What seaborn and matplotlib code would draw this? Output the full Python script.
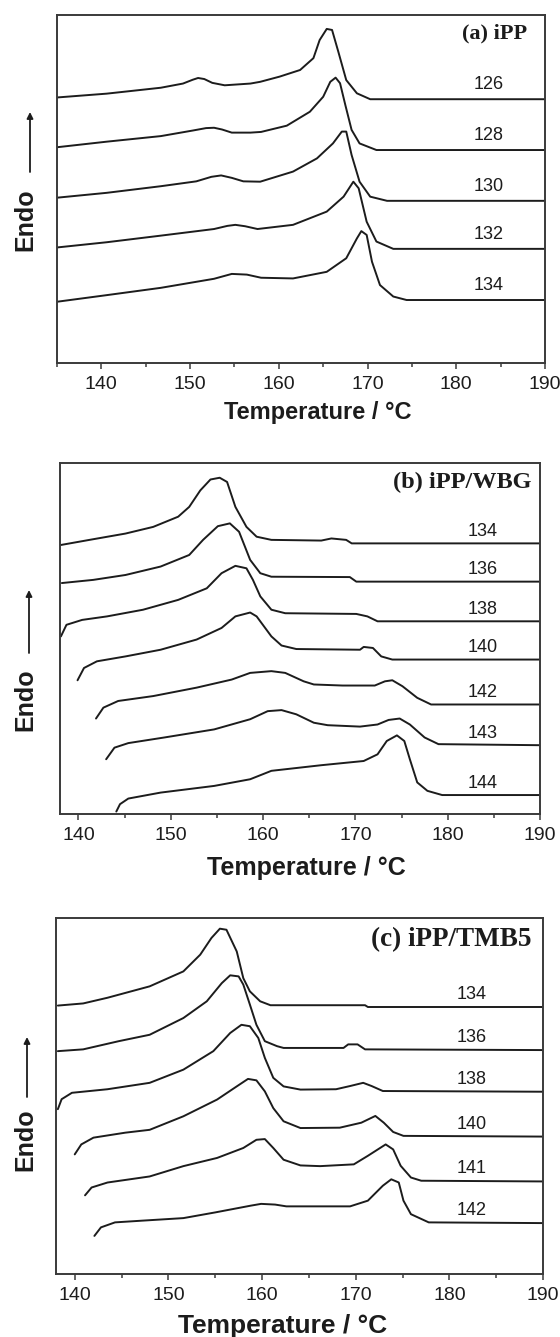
import matplotlib
matplotlib.use("Agg")
import matplotlib.pyplot as plt
from matplotlib.ticker import MultipleLocator
import seaborn as sns

# ---------------- data: DSC melting curves (temperature in degC, heat flow in arbitrary units) ----------------
# (a) iPP, isothermal crystallization temperatures
ipp_tc = ["126", "128", "130", "132", "134"]
ipp_126_t = [135.0, 140.6, 146.7, 149.2, 150.3, 150.9, 151.6, 152.5, 153.9, 156.8, 157.9, 160.1, 162.4, 163.9, 164.6, 165.4, 166.0, 166.7, 167.6, 168.8, 170.3, 190.0]
ipp_126_y = [76.3, 77.4, 79.1, 80.3, 81.4, 81.9, 81.6, 80.5, 79.8, 80.3, 80.8, 82.3, 84.2, 87.6, 92.8, 96.0, 95.7, 89.5, 81.3, 77.5, 75.8, 75.8]
ipp_128_t = [135.0, 140.6, 146.7, 150.3, 151.8, 152.7, 153.6, 154.7, 156.8, 158.0, 160.9, 163.5, 165.0, 165.8, 166.4, 166.9, 167.5, 168.2, 169.1, 171.0, 190.0]
ipp_128_y = [62.0, 63.6, 65.2, 66.8, 67.5, 67.6, 67.1, 66.2, 66.2, 66.4, 68.2, 72.2, 76.5, 80.8, 82.0, 80.4, 74.1, 67.0, 63.1, 61.2, 61.2]
ipp_130_t = [135.0, 140.6, 146.7, 150.7, 152.4, 153.5, 154.7, 156.0, 157.9, 161.6, 164.3, 166.1, 167.1, 167.6, 168.2, 169.1, 170.3, 172.2, 190.0]
ipp_130_y = [47.5, 48.9, 50.8, 52.2, 53.5, 53.9, 53.2, 52.2, 52.1, 55.0, 58.8, 63.1, 66.5, 66.5, 59.8, 52.1, 47.8, 46.6, 46.6]
ipp_132_t = [135.0, 140.6, 146.7, 152.7, 154.2, 155.1, 156.2, 157.6, 161.6, 165.4, 167.3, 168.4, 169.0, 169.9, 171.0, 172.9, 190.0]
ipp_132_y = [33.2, 34.7, 36.6, 38.5, 39.4, 39.7, 39.3, 38.5, 39.7, 43.5, 47.8, 52.1, 50.2, 40.6, 34.9, 32.8, 32.8]
ipp_134_t = [135.0, 140.6, 146.7, 152.7, 154.7, 156.4, 158.0, 161.6, 165.4, 167.6, 168.8, 169.3, 169.9, 170.5, 171.4, 172.9, 174.4, 190.0]
ipp_134_y = [17.6, 19.5, 21.6, 24.2, 25.6, 25.4, 24.5, 24.3, 26.2, 30.1, 35.8, 37.9, 36.8, 29.1, 22.4, 19.1, 18.1, 18.1]

# (b) iPP/WBG
wbg_tc = ["134", "136", "138", "140", "142", "143", "144"]
wbg_134_t = [138.0, 141.2, 145.1, 148.1, 150.8, 152.0, 153.2, 154.3, 155.3, 156.1, 157.0, 158.2, 159.3, 160.9, 166.3, 167.4, 169.0, 169.6, 190.0]
wbg_134_y = [76.6, 78.1, 79.9, 81.8, 84.7, 87.5, 92.2, 95.3, 95.8, 94.6, 87.5, 81.8, 79.0, 78.1, 77.9, 78.5, 78.1, 77.1, 77.1]
wbg_136_t = [138.2, 141.6, 145.1, 148.9, 152.0, 153.5, 155.1, 156.4, 157.4, 158.6, 159.7, 160.9, 169.4, 170.1, 190.0]
wbg_136_y = [65.8, 66.7, 68.1, 70.5, 73.8, 78.1, 82.0, 82.8, 80.4, 72.4, 68.6, 67.6, 67.5, 66.2, 66.2]
wbg_138_t = [138.1, 138.7, 140.4, 143.1, 147.0, 150.8, 153.9, 155.5, 157.0, 158.2, 158.9, 159.7, 160.9, 162.4, 170.1, 171.3, 172.4, 190.0]
wbg_138_y = [50.6, 53.9, 55.3, 56.3, 58.2, 61.0, 64.3, 68.6, 70.7, 70.0, 66.7, 62.0, 58.2, 57.2, 57.0, 56.3, 54.9, 54.9]
wbg_140_t = [139.9, 140.6, 142.0, 145.1, 148.9, 152.8, 155.5, 157.0, 158.6, 159.3, 160.9, 162.0, 163.6, 170.5, 170.9, 171.9, 172.8, 174.0, 190.0]
wbg_140_y = [38.1, 41.6, 43.5, 44.9, 46.8, 49.7, 53.0, 56.3, 57.4, 56.3, 50.6, 48.0, 47.0, 46.8, 47.6, 47.3, 44.9, 44.0, 44.0]
wbg_142_t = [141.9, 142.7, 144.3, 148.1, 152.8, 156.6, 158.6, 160.9, 162.4, 164.4, 165.5, 168.6, 172.1, 173.2, 174.0, 175.1, 176.7, 178.2, 190.0]
wbg_142_y = [27.2, 30.3, 32.2, 33.6, 36.0, 38.3, 40.2, 40.7, 40.2, 37.8, 36.9, 36.6, 36.6, 37.8, 38.1, 36.4, 33.1, 31.2, 31.2]
wbg_143_t = [143.0, 143.9, 145.4, 149.3, 154.7, 158.6, 160.5, 162.0, 163.6, 165.5, 167.0, 170.5, 172.4, 173.6, 174.8, 175.9, 177.5, 179.0, 190.0]
wbg_143_y = [15.6, 18.9, 20.2, 21.8, 24.1, 27.0, 29.3, 29.6, 28.4, 26.0, 25.3, 24.9, 25.5, 26.8, 27.2, 25.5, 21.8, 19.9, 19.6]
wbg_144_t = [144.1, 144.5, 145.4, 148.9, 154.7, 158.6, 160.9, 166.3, 170.9, 172.4, 173.4, 174.5, 175.3, 175.9, 176.7, 177.8, 179.4, 190.0]
wbg_144_y = [0.7, 2.8, 4.4, 6.1, 8.0, 9.9, 12.3, 13.9, 15.1, 17.0, 20.8, 22.4, 20.8, 15.6, 9.0, 6.6, 5.4, 5.4]

# (c) iPP/TMB5
tmb_tc = ["134", "136", "138", "140", "141", "142"]
tmb_134_t = [138.2, 140.9, 143.5, 148.0, 151.6, 153.4, 154.6, 155.5, 156.2, 157.3, 158.0, 158.7, 159.8, 160.9, 171.0, 171.3, 190.0]
tmb_134_y = [75.4, 76.0, 77.6, 80.8, 85.0, 89.7, 94.4, 97.0, 96.7, 90.6, 83.1, 79.4, 76.6, 75.5, 75.5, 75.0, 75.0]
tmb_136_t = [138.2, 140.9, 144.7, 148.0, 151.6, 154.1, 155.7, 156.6, 157.5, 158.0, 158.7, 159.4, 160.3, 161.6, 162.3, 168.7, 169.2, 170.2, 171.0, 190.0]
tmb_136_y = [62.6, 63.1, 65.4, 67.2, 71.9, 76.6, 81.7, 83.9, 83.6, 81.3, 75.7, 70.0, 65.4, 64.0, 63.5, 63.5, 64.5, 64.5, 63.1, 62.9]
tmb_138_t = [138.2, 138.6, 139.7, 143.5, 148.0, 151.6, 154.8, 156.6, 157.8, 158.7, 159.6, 160.3, 161.2, 162.3, 164.1, 167.9, 169.4, 170.8, 171.7, 172.9, 190.0]
tmb_138_y = [46.3, 49.1, 50.9, 51.9, 53.7, 57.4, 62.6, 67.7, 70.0, 69.6, 66.3, 60.7, 55.1, 52.7, 51.8, 51.9, 52.8, 53.7, 52.8, 51.4, 51.2]
tmb_140_t = [140.0, 140.7, 142.0, 145.4, 148.0, 151.6, 155.2, 157.3, 158.5, 159.4, 160.3, 161.2, 162.3, 164.1, 168.3, 170.6, 172.1, 173.0, 174.0, 175.1, 190.0]
tmb_140_y = [33.6, 36.4, 38.3, 39.7, 40.5, 44.3, 49.0, 52.7, 54.8, 54.4, 51.3, 46.6, 42.9, 41.0, 41.1, 42.5, 44.4, 42.5, 39.9, 38.8, 38.6]
tmb_141_t = [141.1, 141.8, 143.5, 148.0, 151.6, 155.2, 158.0, 159.4, 160.3, 161.2, 162.3, 164.1, 166.2, 169.8, 171.3, 173.2, 174.0, 174.8, 175.9, 177.0, 190.0]
tmb_141_y = [22.1, 24.3, 25.7, 27.4, 30.3, 32.6, 35.4, 37.7, 37.9, 35.4, 32.1, 30.5, 30.3, 30.8, 33.2, 36.4, 35.0, 30.4, 27.1, 26.2, 26.0]
tmb_142_t = [142.1, 142.8, 144.3, 147.3, 151.6, 155.0, 158.8, 159.9, 161.4, 162.6, 169.4, 171.3, 172.9, 173.8, 174.6, 175.1, 175.9, 177.8, 190.0]
tmb_142_y = [10.7, 13.1, 14.5, 15.0, 15.7, 17.3, 19.2, 19.7, 19.5, 19.0, 19.0, 20.6, 24.8, 26.6, 25.7, 20.6, 16.8, 14.5, 14.3]

panel_titles = ["(a) iPP", "(b) iPP/WBG", "(c) iPP/TMB5"]
x_ticks = [140, 150, 160, 170, 180, 190]
x_label = "Temperature / \u00b0C"
y_label = "Endo"

# ---------------- styling ----------------
sns.set_theme(style="white", context="notebook")
plt.rcParams["font.family"] = ["Liberation Sans", "DejaVu Sans"]
INK = "#1c1c1c"
SPINE = "#3a3a3a"

W, H = 560, 1337
fig = plt.figure(figsize=(W / 100, H / 100), dpi=100)


def px_axes(left, top, right, bottom):
    return fig.add_axes([left / W, 1 - bottom / H, (right - left) / W, (bottom - top) / H])


panels = [
    dict(box=(57, 15, 545, 363), xlim=(135, 190), tcs=ipp_tc,
         curves=[(ipp_126_t, ipp_126_y), (ipp_128_t, ipp_128_y), (ipp_130_t, ipp_130_y),
                 (ipp_132_t, ipp_132_y), (ipp_134_t, ipp_134_y)],
         lab_x=183.6, lab_dy=4.2, title_xy=(0.963, 0.947), title_fs=16,
         xlab_xy=(0.535, -0.141), xlab_fs=17, ylab_xy=(-0.0656, 0.411), arrow=(30, 172, 112)),
    dict(box=(60, 463, 540, 814), xlim=(138, 190), tcs=wbg_tc,
         curves=[(wbg_134_t, wbg_134_y), (wbg_136_t, wbg_136_y), (wbg_138_t, wbg_138_y),
                 (wbg_140_t, wbg_140_y), (wbg_142_t, wbg_142_y), (wbg_143_t, wbg_143_y),
                 (wbg_144_t, wbg_144_y)],
         lab_x=183.8, lab_dy=3.4, title_xy=(0.983, 0.945), title_fs=17.5,
         xlab_xy=(0.5125, -0.154), xlab_fs=18, ylab_xy=(-0.0729, 0.325), arrow=(29, 653, 590)),
    dict(box=(56, 918, 543, 1274), xlim=(138, 190), tcs=tmb_tc,
         curves=[(tmb_134_t, tmb_134_y), (tmb_136_t, tmb_136_y), (tmb_138_t, tmb_138_y),
                 (tmb_140_t, tmb_140_y), (tmb_141_t, tmb_141_y), (tmb_142_t, tmb_142_y)],
         lab_x=182.4, lab_dy=3.5, title_xy=(0.977, 0.938), title_fs=19.5,
         xlab_xy=(0.466, -0.147), xlab_fs=19, ylab_xy=(-0.0637, 0.376), arrow=(27, 1097, 1037)),
]

for p, title in zip(panels, panel_titles):
    ax = px_axes(*p["box"])
    for (t, y), tc in zip(p["curves"], p["tcs"]):
        sns.lineplot(x=t, y=y, ax=ax, color=INK, linewidth=1.4, sort=False, estimator=None)
        ax.text(p["lab_x"], y[-1] + p["lab_dy"], tc, ha="center", va="center",
                fontsize=13, color=INK)

    ax.set_xlim(*p["xlim"])
    ax.set_ylim(0, 100)
    ax.set_xticks(x_ticks)
    ax.xaxis.set_minor_locator(MultipleLocator(5))
    ax.set_yticks([])
    ax.tick_params(axis="x", which="major", direction="out", length=4.5, width=1.1,
                   color=SPINE, labelsize=14, labelcolor=INK, pad=5, bottom=True)
    ax.tick_params(axis="x", which="minor", direction="out", length=3, width=1.1,
                   color=SPINE, bottom=True)
    for s in ax.spines.values():
        s.set_visible(True)
        s.set_color(SPINE)
        s.set_linewidth(1.4)

    ax.text(*p["title_xy"], title, transform=ax.transAxes, ha="right", va="center",
            fontsize=p["title_fs"], fontweight="bold", color=INK,
            family=["Liberation Serif", "DejaVu Serif"])

    ax.set_xlabel(x_label, fontsize=p["xlab_fs"], fontweight="bold", color=INK)
    ax.xaxis.set_label_coords(*p["xlab_xy"])
    ax.xaxis.label.set_va("center")

    ax.set_ylabel(y_label, fontsize=18, fontweight="bold", color=INK)
    ax.yaxis.set_label_coords(*p["ylab_xy"])
    ax.yaxis.label.set_va("center")

    ax_x, y0, y1 = p["arrow"]
    ax.annotate("", xy=(ax_x, H - y1), xytext=(ax_x, H - y0),
                xycoords="figure pixels", textcoords="figure pixels",
                arrowprops=dict(arrowstyle="-|>", color=INK, lw=1.3, mutation_scale=9,
                                shrinkA=0, shrinkB=0))

fig.savefig("out.png", dpi=100, facecolor="white")
